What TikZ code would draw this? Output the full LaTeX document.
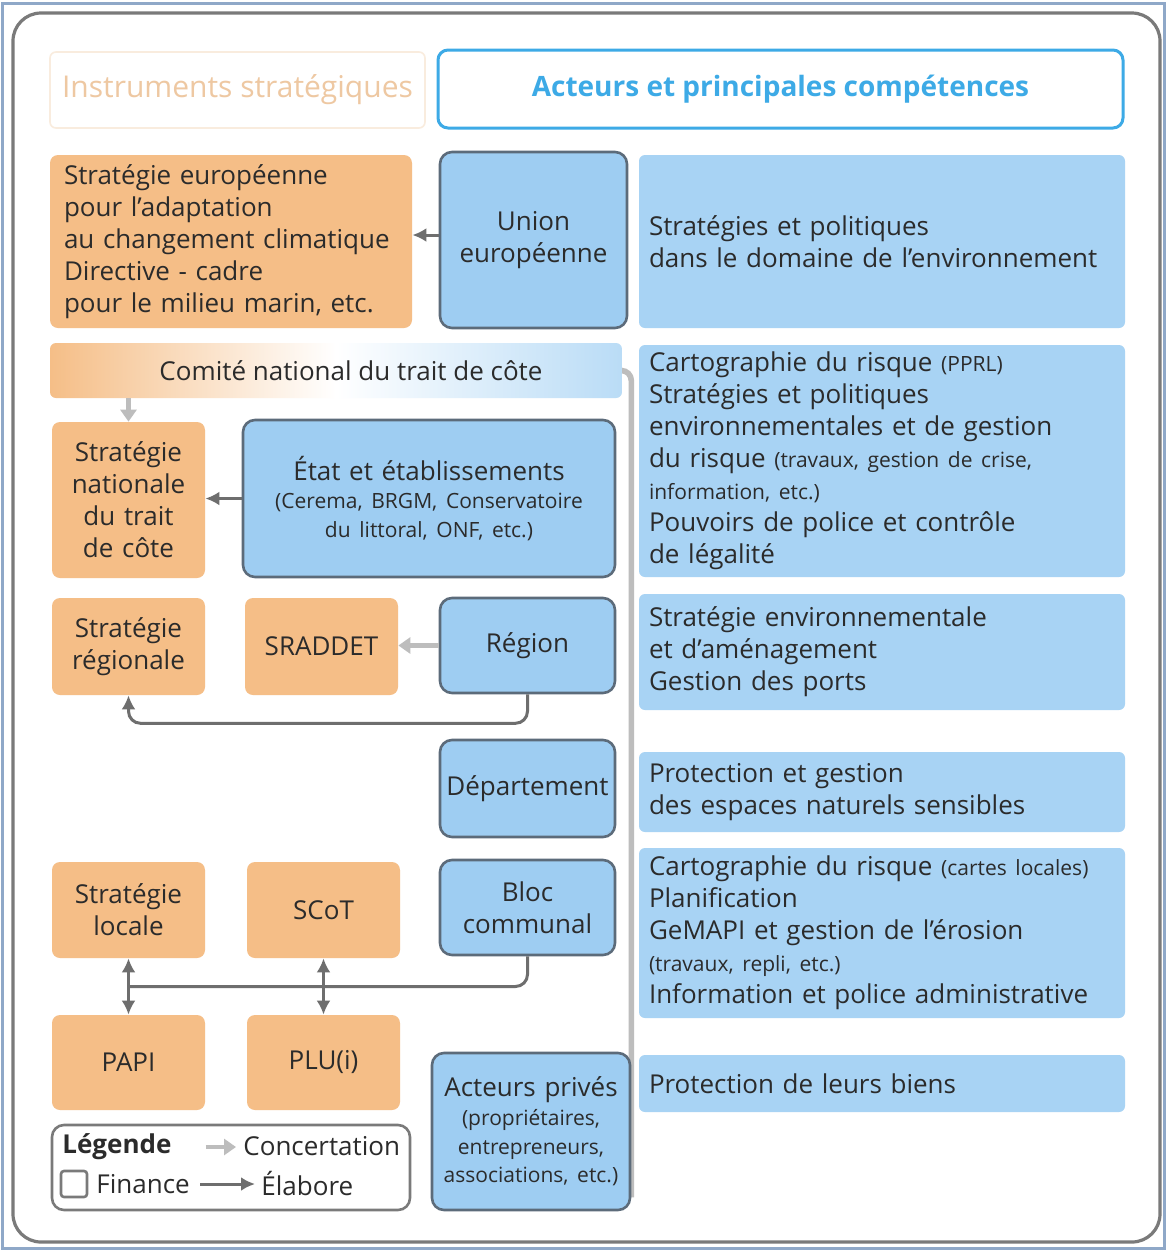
\documentclass[tikz,border=0pt]{standalone}
\usepackage{fontspec}
\setmainfont{Open Sans}
\usetikzlibrary{arrows.meta,calc}
\pgfdeclarelayer{bg}
\pgfsetlayers{bg,main}
\frenchspacing
\definecolor{orangeC}{HTML}{F5BE87}
\definecolor{blueA}{HTML}{9ECDF2}
\definecolor{blueB}{HTML}{A8D3F4}
\definecolor{actorBorder}{HTML}{5C6B7A}
\definecolor{hdrBlue}{HTML}{3DAAE6}
\definecolor{hdrOrange}{HTML}{EEC8A2}
\definecolor{txt}{HTML}{2B2B2B}
\definecolor{concertC}{HTML}{BDBDBD}
\definecolor{elabC}{HTML}{6E6E6E}
\definecolor{frameC}{HTML}{7A7A7A}
\definecolor{pageC}{HTML}{8FA8C8}
\begin{document}
\begin{tikzpicture}[x=0.5pt,y=-0.5pt,
  every node/.style={text=txt, font=\fontsize{13}{16}\selectfont},
  orangebox/.style={fill=orangeC, rounded corners=4pt, inner sep=0pt, align=center},
  actor/.style={fill=blueA, draw=actorBorder, line width=1.3pt, rounded corners=6pt, align=center, inner sep=0pt},
  comp/.style={fill=blueB, rounded corners=3pt, inner xsep=5pt, inner ysep=0pt, text width=233pt, align=left},
  comite/.style={left color=orangeC, right color=blueB!80, middle color=white, rounded corners=3pt, inner sep=0pt},
  elab/.style={draw=elabC, line width=1.5pt, -{Latex[length=7pt,width=7pt]}},
  elabline/.style={draw=elabC, line width=1.5pt},
  elabboth/.style={draw=elabC, line width=1.5pt, {Latex[length=7pt,width=7pt]}-{Latex[length=7pt,width=7pt]}},
  concert/.style={draw=concertC, line width=2.2pt, -{Triangle[length=6pt,width=8pt]}},
  concertline/.style={draw=concertC, line width=2.8pt},
  legtext/.style={anchor=west, inner sep=2pt}
]
\newcommand{\sm}{\fontsize{10.5}{14.3}\selectfont}
\useasboundingbox (0,0) rectangle (1166,1250);
\begin{pgfonlayer}{bg}
\fill[white] (0,0) rectangle (1166,1250);
\end{pgfonlayer}
\draw[pageC, line width=1.5pt] (2,3) rectangle (1164,1248);
\draw[frameC, line width=1.6pt, rounded corners=14pt] (13,13) rectangle (1160,1242);

% headers
\node[draw=hdrOrange!35, fill=white, line width=0.8pt, rounded corners=3pt, minimum width=187.5pt, minimum height=38pt, text=hdrOrange, font=\fontsize{15}{18}\selectfont] (hl) at (237.5,90) {Instruments stratégiques};
\node[draw=hdrBlue, fill=white, line width=1.5pt, rounded corners=5pt, minimum width=342.5pt, minimum height=39pt, text=hdrBlue, font=\fontsize{14}{17}\selectfont\bfseries] (hr) at (780.5,89) {Acteurs et principales compétences};

% row 1
\node[orangebox, align=left, text width=167pt, inner xsep=7pt, minimum height=86.5pt] (eus) at (231,241.5) {Stratégie européenne\\pour l’adaptation\\au changement climatique\\Directive - cadre\\pour le milieu marin, etc.};
\node[actor, text width=88pt, minimum width=93.5pt, minimum height=88pt] (ue) at (533.5,240) {Union\\européenne};
\node[comp, minimum height=86.5pt] (c1) at (882,241.5) {Stratégies et politiques\\dans le domaine de l’environnement};

% row 2
\node[comite, minimum width=286pt, minimum height=27.5pt] (com) at (336,370.5) {\hspace{15pt}Comité national du trait de côte};
\node[orangebox, text width=72pt, minimum width=76.5pt, minimum height=78pt] (snat) at (128.5,500) {Stratégie\\nationale\\du trait\\de côte};
\node[actor, text width=180pt, minimum width=186pt, minimum height=78.5pt, font=\fontsize{13}{14.3}\selectfont] (etat) at (429,498.5) {État et établissements\\{\sm (Cerema, BRGM, Conservatoire}\\{\sm du littoral, ONF, etc.)}};
\node[comp, minimum height=116pt] (c2) at (882,461) {Cartographie du risque {\sm (PPRL)}\\Stratégies et politiques\\environnementales et de gestion\\du risque {\sm (travaux, gestion de crise,}\\{\sm information, etc.)}\\Pouvoirs de police et contrôle\\de légalité};

% row 3
\node[orangebox, text width=72pt, minimum width=76.5pt, minimum height=48.5pt] (sreg) at (128.5,646.5) {Stratégie\\régionale};
\node[orangebox, text width=72pt, minimum width=76.5pt, minimum height=48.5pt] (sraddet) at (321.5,646.5) {SRADDET};
\node[actor, text width=83pt, minimum width=87.5pt, minimum height=47.5pt] (region) at (527.5,645.5) {Région};
\node[comp, minimum height=58pt] (c3) at (882,652) {Stratégie environnementale\\et d’aménagement\\Gestion des ports};

% row 4
\node[actor, text width=84pt, minimum width=87.5pt, minimum height=48.5pt] (dept) at (527.5,788.5) {Département};
\node[comp, minimum height=40pt] (c4) at (882,792) {Protection et gestion\\des espaces naturels sensibles};

% row 5
\node[orangebox, text width=72pt, minimum width=76.5pt, minimum height=48pt] (sloc) at (128.5,910) {Stratégie\\locale};
\node[orangebox, text width=72pt, minimum width=76.5pt, minimum height=48pt] (scot) at (323.5,910) {SCoT};
\node[actor, text width=83pt, minimum width=87.5pt, minimum height=47.5pt] (bloc) at (527.5,907.5) {Bloc\\communal};
\node[comp, minimum height=85pt] (c5) at (882,933) {Cartographie du risque {\sm (cartes locales)}\\Planification\\GeMAPI et gestion de l’érosion\\{\sm (travaux, repli, etc.)}\\Information et police administrative};

% row 6
\node[orangebox, text width=72pt, minimum width=76.5pt, minimum height=47.5pt] (papi) at (128.5,1062.5) {PAPI};
\node[orangebox, text width=72pt, minimum width=76.5pt, minimum height=47.5pt] (plu) at (323.5,1062.5) {PLU(i)};
\node[actor, text width=95pt, minimum width=99pt, minimum height=78.5pt, font=\fontsize{13}{14.3}\selectfont] (prives) at (531,1131.5) {Acteurs privés\\{\sm (propriétaires,}\\{\sm entrepreneurs,}\\{\sm associations, etc.)}};
\node[comp, minimum height=28.5pt] (c6) at (882,1083.5) {Protection de leurs biens};

% legend
\node[draw=frameC, line width=1.3pt, fill=white, rounded corners=6pt, minimum width=179pt, minimum height=42.5pt] (leg) at (231,1167.5) {};
\node[legtext, font=\fontsize{13}{16}\selectfont\bfseries] (lleg) at (58,1147) {Légende};
\node[legtext] (lconc) at (239,1146) {Concertation};
\node[draw=frameC, line width=1.3pt, fill=white, minimum size=13pt, inner sep=0pt, rounded corners=1.5pt] (lsq) at (74,1184) {};
\node[legtext] (lfin) at (92,1184) {Finance};
\node[legtext] (lela) at (257,1184) {Élabore};
\draw[concert, shorten <=15pt, shorten >=1.5pt] (lleg.east) -- (lleg.east -| lconc.west);
\draw[elab, shorten <=3pt, shorten >=1pt] (lfin.east) -- (lela.west);

% connectors
\begin{pgfonlayer}{bg}
\draw[concertline, rounded corners=5pt, shorten >=7pt] (com.east) -| (prives.south east);
\end{pgfonlayer}
\coordinate (ueA) at ($(ue.west)+(0,-5)$);
\draw[elab] (ueA) -- (ueA -| eus.east);
\draw[concert] (com.south -| snat.north) -- (snat.north);
\draw[elab] (etat.west) -- (etat.west -| snat.east);
\draw[concert] (region.west) -- (region.west -| sraddet.east);
\draw[elab, rounded corners=6pt] (region.south) -- ++(0,29) -| (sreg.south);
\coordinate (j1) at ($(sloc.south)!0.5!(papi.north)$);
\draw[elabline, rounded corners=6pt] (bloc.south) |- (j1);
\draw[elabboth] (sloc.south) -- (papi.north);
\draw[elabboth] (scot.south) -- (plu.north);
\end{tikzpicture}
\end{document}
